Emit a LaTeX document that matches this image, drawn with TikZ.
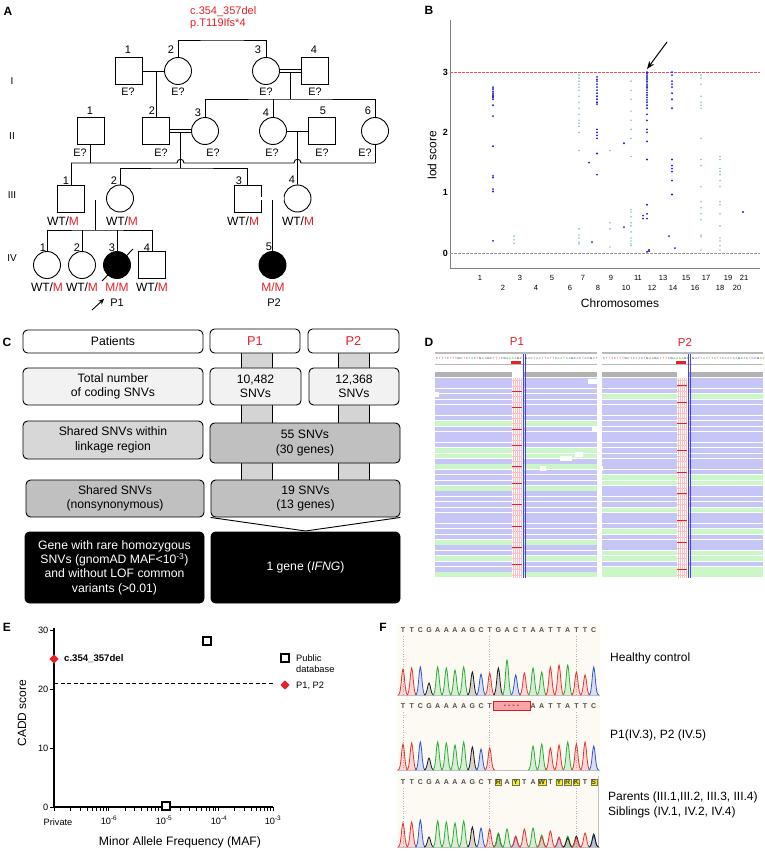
\documentclass[tikz,border=0pt]{standalone}
\usepackage{fontspec}
\setmainfont{Liberation Sans}
\usetikzlibrary{calc,arrows.meta,shapes.geometric}
\definecolor{myred}{RGB}{232,32,40}
\definecolor{dblue}{RGB}{30,30,200}
\definecolor{lteal}{RGB}{130,195,205}
\definecolor{boxA}{RGB}{242,242,242}
\definecolor{boxB}{RGB}{215,215,215}
\definecolor{boxC}{RGB}{192,192,192}
\definecolor{barC}{RGB}{212,212,212}
\definecolor{readB}{RGB}{198,198,246}
\definecolor{readG}{RGB}{202,246,200}
\definecolor{colA}{RGB}{40,175,55}
\definecolor{colC}{RGB}{45,85,215}
\definecolor{colG}{RGB}{25,25,25}
\definecolor{colT}{RGB}{232,50,50}
\definecolor{chbg}{RGB}{252,250,243}
\newcommand{\chpeak}[4]{%
  \fill[#4,fill opacity=0.16] plot[domain=-5:5,samples=11,smooth] ({#1+\x},{#2-#3*exp(-(\x)*(\x)/4.5)}) -- cycle;
  \draw[#4,line width=0.8pt] plot[domain=-5:5,samples=11,smooth] ({#1+\x},{#2-#3*exp(-(\x)*(\x)/4.5)});}
\begin{document}
\begin{tikzpicture}[x=1pt,y=-1pt,
  ind/.style={draw,line width=0.9pt,minimum size=27pt,inner sep=0pt,fill=white},
  sq/.style={ind,rectangle},
  ci/.style={ind,circle},
  aff/.style={fill=black},
  num/.style={font=\fontsize{11}{12}\selectfont,inner sep=0pt},
  eq/.style={font=\fontsize{10.8}{12}\selectfont,inner sep=0pt},
  gt/.style={font=\fontsize{12}{13}\selectfont,inner sep=0pt},
  gen/.style={font=\fontsize{10}{11}\selectfont,inner sep=0pt},
  pl/.style={line width=0.9pt},
  dbl/.style={double,double distance=2.2pt,line width=0.8pt},
  panel/.style={font=\fontsize{12}{14}\selectfont\bfseries,inner sep=0pt},
  cbox/.style={draw,rounded corners=4.5pt,line width=0.9pt,align=center,font=\fontsize{12.2}{14.4}\selectfont,inner sep=0pt},
  tick/.style={font=\fontsize{7.5}{9}\selectfont,inner sep=0pt},
  etick/.style={font=\fontsize{9.2}{10}\selectfont,inner sep=0pt},
  seqf/.style={font=\fontsize{7}{7}\selectfont\bfseries,text=black!70,inner sep=0pt},
  hetbox/.style={seqf,fill=yellow,draw=black!55,line width=0.4pt,inner sep=0.7pt,text=black!75},
  lab/.style={font=\fontsize{12}{15}\selectfont,inner sep=0pt,anchor=west,align=left},
  pubsq/.style={draw,line width=2.2pt,minimum size=7.5pt,inner sep=0pt,fill=white},
  reddia/.style={diamond,fill=myred,minimum size=9.5pt,inner sep=0pt},
]
\useasboundingbox (0,0) rectangle (765,859);
\fill[white] (0,0) rectangle (765,859);

%================ Panel A =================
\node[panel] (pA) at (8,11) {A};
\node[font=\fontsize{11}{12}\selectfont,text=myred,anchor=west,inner sep=0pt] (mut1) at (190,12) {c.354\_357del};
\node[font=\fontsize{11}{12}\selectfont,text=myred,anchor=west,inner sep=0pt] (mut2) at (190,24) {p.T119Ifs*4};

\node[gen] (gI) at (12,81) {I};
\node[gen] (gII) at (12,136) {II};
\node[gen] (gIII) at (12,195) {III};
\node[gen] (gIV) at (12,258) {IV};

\node[sq] (I1) at (128.5,71) {};
\node[ci] (I2) at (178,71) {};
\node[ci] (I3) at (266,71) {};
\node[sq] (I4) at (315,71) {};
\node[sq] (II1) at (90.5,131) {};
\node[sq] (II2) at (156,131) {};
\node[ci] (II3) at (205,131) {};
\node[ci] (II4) at (273,131) {};
\node[sq] (II5) at (322,131) {};
\node[ci] (II6) at (375,131) {};
\node[sq] (III1) at (71,198.5) {};
\node[ci] (III2) at (120,198.5) {};
\node[sq] (III3) at (247.5,198.5) {};
\node[ci] (III4) at (297.5,198.5) {};
\node[ci] (IV1) at (47,265) {};
\node[ci] (IV2) at (82,265) {};
\node[ci,aff] (IV3) at (117,265) {};
\node[sq] (IV4) at (152,265) {};
\node[ci,aff] (IV5) at (272.5,265) {};

\coordinate (top) at (222,40);
\coordinate (m34) at ($(I3.east)!0.5!(I4.west)$);
\coordinate (s2) at ($(m34)+(0,28)$);
\coordinate (m23) at ($(II2.east)!0.5!(II3.west)$);
\coordinate (s3) at ($(m23)+(0,37)$);
\coordinate (m45) at ($(II4.east)!0.5!(II5.west)$);
\coordinate (h1) at (71,163);
\coordinate (h2) at (375,163);
\coordinate (m3a) at ($(III1.east)!0.5!(III2.west)$);
\coordinate (s4) at ($(m3a)+(0,31.5)$);
\coordinate (m3b) at ($(III3.east)!0.5!(III4.west)$);

\draw[pl] (I2.north) |- (top) -| (I3.north);
\draw[pl] (I1.east) -- (I2.west);
\draw[pl] (II2.north) -- (II2.north |- I1.east);
\draw[pl] (m34) -- (s2);
\draw[pl] (II3.north) |- (s2) -| (II6.north);
\draw[pl] (II4.north) -- (II4.north |- s2);
\draw[dbl] (I3.east) -- (I4.west);

\draw[pl] (II1.south) -- (II1.south |- h1);
\draw[pl] (II6.south) -- (h2);
\draw[pl] (h1) -- (III1.north);
\draw[pl] (h1) -- ($(m23 |- h1)+(-3.5,0)$) .. controls +(0,-5) and +(0,-5) .. ($(m23 |- h1)+(3.5,0)$)
  -- ($(m45 |- h1)+(-3.5,0)$) .. controls +(0,-5) and +(0,-5) .. ($(m45 |- h1)+(3.5,0)$) -- (h2);
\draw[pl] (m23) -- (s3);
\draw[pl] (III2.north) |- (s3) -| (III3.north);
\draw[pl] (m45) -- (III4.north);
\draw[dbl] (II2.east) -- (II3.west);
\draw[pl] (II4.east) -- (II5.west);
\draw[pl] (m3a) -- (s4);
\draw[pl] (IV1.north) |- (s4) -| (IV4.north);
\draw[pl] (IV2.north) -- (IV2.north |- s4);
\draw[pl] (IV3.north) -- (IV3.north |- s4);
\draw[dbl] (III1.east) -- (III2.west);
\draw[pl] (m3b) -- (IV5.north);
\draw[dbl] (III3.east) -- (III4.west);
\draw[pl] (102,281) -- (133,249);

% numbers
\node[num] (nI1) at (128,50) {1};
\node[num] (nI2) at (171,50) {2};
\node[num] (nI3) at (258,50) {3};
\node[num] (nI4) at (314,50) {4};
\node[num] (nII1) at (90,111) {1};
\node[num] (nII2) at (152,111) {2};
\node[num] (nII3) at (198,113) {3};
\node[num] (nII4) at (266,113) {4};
\node[num] (nII5) at (323,111) {5};
\node[num] (nII6) at (368,111) {6};
\node[num] (nIII1) at (66,181) {1};
\node[num] (nIII2) at (114,181) {2};
\node[num] (nIII3) at (239,181) {3};
\node[num] (nIII4) at (292,180) {4};
\node[num] (nIV1) at (43,248) {1};
\node[num] (nIV2) at (77,248) {2};
\node[num] (nIV3) at (112,248) {3};
\node[num] (nIV4) at (147,248) {4};
\node[num] (nIV5) at (269,247) {5};
% E?
\node[eq] (eI1) at (128,92) {E?};
\node[eq] (eI2) at (178,92) {E?};
\node[eq] (eI3) at (266,92) {E?};
\node[eq] (eI4) at (315,92) {E?};
\node[eq] (eII1) at (80,153) {E?};
\node[eq] (eII2) at (161,153) {E?};
\node[eq] (eII3) at (213,153) {E?};
\node[eq] (eII4) at (272,153) {E?};
\node[eq] (eII5) at (322,153) {E?};
\node[eq] (eII6) at (365,153) {E?};
% genotypes
\node[gt] (gIII1) at (63,221) {WT/\textcolor{myred}{M}};
\node[gt] (gIII2) at (122,221) {WT/\textcolor{myred}{M}};
\node[gt] (gIII3) at (243,221) {WT/\textcolor{myred}{M}};
\node[gt] (gIII4) at (298,221) {WT/\textcolor{myred}{M}};
\node[gt] (gIV1) at (47,287) {WT/\textcolor{myred}{M}};
\node[gt] (gIV2) at (82,287) {WT/\textcolor{myred}{M}};
\node[gt,text=myred] (gIV3) at (117,287) {M/M};
\node[gt] (gIV4) at (152,287) {WT/\textcolor{myred}{M}};
\node[gt,text=myred] (gIV5) at (273,287) {M/M};
\node[num] (pP1) at (117,303) {P1};
\node[num] (pP2) at (274,303) {P2};
\coordinate (arrP1) at (92,310);
\coordinate (arrP1b) at (104,299);
\draw[line width=0.9pt,-{Stealth[length=5.5pt,width=5pt]}] (arrP1) -- (arrP1b);

%================ Panel B =================
\node[panel] (pB) at (429,10) {B};
\draw[gray,line width=0.7pt] (450,20) -- (450,268) -- (760,268);
\draw[myred!80,dashed,line width=0.5pt,dash pattern=on 2.5pt off 1.5pt] (450,72) -- (760,72);
\draw[gray!80,dashed,line width=0.6pt,dash pattern=on 2.5pt off 1.5pt] (450,253) -- (760,253);
\foreach \v in {0,1,2,3} {\node[font=\fontsize{9}{10}\selectfont\bfseries,anchor=east,inner sep=0pt] (by\v) at (448,{253-60.3*\v}) {\v};}
\node[font=\fontsize{12}{13}\selectfont,rotate=90,inner sep=0pt] (blod) at (432,155) {lod score};
\foreach \c/\xx in {1/480,3/520,5/552,7/583,9/611,11/638,13/663,15/686,17/706,19/728,21/744} {\node[tick] (bc\c) at (\xx,278) {\c};}
\foreach \c/\xx in {2/503,4/536,6/570,8/598,10/626,12/652,14/673,16/695,18/720,20/737} {\node[tick] (bc\c) at (\xx,288) {\c};}
\node[font=\fontsize{12}{13}\selectfont,inner sep=0pt] (bchr) at (620,303) {Chromosomes};
% dots
\foreach \xx/\vals in {
 493/{2.75,2.72,2.68,2.65,2.62,2.6,2.58,2.55,2.45,2.27,1.77,1.28,1.25,1.06,1.02,0.2},
 589/{1.5},592/{0.18},
 597/{2.92,2.88,2.85,2.8,2.75,2.7,2.65,2.6,2.55,2.5,2.47,2.05,2.0,1.95,1.9,1.65,1.3},
 624/{1.82,0.43},643/{0.62,0.57},
 647/{3.0,2.98,2.95,2.92,2.9,2.87,2.84,2.8,2.77,2.74,2.7,2.66,2.62,2.58,2.54,2.5,2.45,2.4,2.3,2.2,2.05,2.0,1.85,1.55,0.8,0.65,0.57,0.02},
 649/{0.03,0.05},669/{0.28},
 672/{3.0,2.95,2.85,2.8,2.75,2.65,2.55,2.4,1.55,1.45,1.4,1.35,1.2,0.97},
 675/{0.08},743/{0.68}}
 {\foreach \v in \vals {\fill[dblue] (\xx,{253-60.3*\v}) circle (1.05);}}
\foreach \xx/\vals in {
 514/{0.28,0.22,0.16},
 579/{2.95,2.9,2.85,2.8,2.75,2.7,2.6,2.5,2.4,2.3,2.2,2.15,2.1,2.0,1.7,0.4,0.3,0.25,0.18,0.15},
 610/{1.7,0.5,0.4,0.1},
 631/{2.85,2.7,2.55,2.35,2.2,2.05,1.9,1.6,0.72,0.68,0.6,0.5,0.45,0.35,0.25,0.2,0.15,0.12},
 701/{2.95,2.9,2.8,2.6,2.5,2.45,2.4,1.9,1.55,1.45,1.1,0.85,0.75,0.65,0.55,0.3,0.27,0.05},
 720/{1.6,1.55,1.4,1.35,1.3,1.2,1.1,0.85,0.8,0.65,0.45,0.25,0.2,0.12,0.05}}
 {\foreach \v in \vals {\fill[lteal] (\xx,{253-60.3*\v}) circle (0.9);}}
\coordinate (barr) at (667,42);
\coordinate (barr2) at (647,69);
\draw[line width=1pt,-{Stealth[length=8pt,width=6pt]}] (barr) -- (barr2);

%================ Panel C =================
\node[panel] (pC) at (7,342) {C};
\filldraw[fill=barC,line width=0.9pt] (241,352) rectangle (272,481);
\filldraw[fill=barC,line width=0.9pt] (338,352) rectangle (369,481);
\node[cbox,fill=white,minimum width=180pt,minimum height=23pt] (cpat) at (113,341.5) {Patients};
\node[cbox,fill=white,minimum width=90pt,minimum height=24pt,text=myred,font=\fontsize{12.8}{14}\selectfont] (cp1) at (255,341) {P1};
\node[cbox,fill=white,minimum width=91pt,minimum height=24pt,text=myred,font=\fontsize{12.8}{14}\selectfont] (cp2) at (353.5,341) {P2};
\node[cbox,fill=boxA,minimum width=180pt,minimum height=37pt] (ctot) at (113,386.5) {Total number\\of coding SNVs};
\node[cbox,fill=boxA,minimum width=91pt,minimum height=37pt] (ct1) at (255.5,386.5) {10,482\\SNVs};
\node[cbox,fill=boxA,minimum width=90pt,minimum height=37pt] (ct2) at (354,386.5) {12,368\\SNVs};
\node[cbox,fill=boxB,minimum width=180pt,minimum height=38pt] (csh) at (113,440) {Shared SNVs within\\linkage region};
\node[cbox,fill=boxC,minimum width=190pt,minimum height=40pt] (c55) at (305,443) {55 SNVs\\(30 genes)};
\node[cbox,fill=boxC,minimum width=178pt,minimum height=37pt] (cns) at (115,498.5) {Shared SNVs\\(nonsynonymous)};
\node[cbox,fill=boxC,minimum width=189pt,minimum height=37pt] (c19) at (305.5,498.5) {19 SNVs\\(13 genes)};
\coordinate (cfun) at (305.5,531);
\draw[line width=0.9pt] (c19.south west) -- (cfun) -- (c19.south east);
\node[cbox,fill=black,text=white,minimum width=179pt,minimum height=71pt] (cgl) at (114.5,567.5) {Gene with rare homozygous\\SNVs (gnomAD MAF<10\textsuperscript{-3})\\and without LOF common\\variants (>0.01)};
\node[cbox,fill=black,text=white,minimum width=189pt,minimum height=71pt] (cg1) at (305.5,567.5) {1 gene (\textit{IFNG})};

%================ Panel D =================
\node[panel] (pD) at (429,342) {D};
\node[font=\fontsize{11.5}{13}\selectfont,text=myred,inner sep=0pt] (dP1) at (517,342) {P1};
\node[font=\fontsize{11.5}{13}\selectfont,text=myred,inner sep=0pt] (dP2) at (685,342) {P2};
\foreach \xa/\xb/\da/\db/\nm in {435/597/512/523/a,602/763/677/688/b} {
  \fill[gray!55] (\xa,352) rectangle (\xb,354);
  \fill[gray!55] (\xa,363.5) rectangle (\xb,365);
  \fill[myred] ({\da-1},361) rectangle ({\db-2},363.5);
  \fill[gray!60] (\xa,371.5) rectangle (\da,376.5);
  \fill[gray!60] (\db,371.5) rectangle (\xb,376.5);
  \foreach \r in {0,...,36} {
    \fill[readB] (\xa,{378+\r*5.4}) rectangle (\da,{382.6+\r*5.4});
    \fill[readB] (\db,{378+\r*5.4}) rectangle (\xb,{382.6+\r*5.4});
    \draw[red!25,line width=0.3pt] (\da,{380.3+\r*5.4}) -- ({\db-1},{380.3+\r*5.4});
  }
  \foreach \cc in {1,3,5,7,9} {\draw[red!25,line width=0.3pt] ({\da+\cc},378) -- ({\da+\cc},578);}
}
\foreach \r in {8,13,14,16,20,30,33,36} {
  \fill[readG] (435,{378+\r*5.4}) rectangle (512,{382.6+\r*5.4});
  \fill[readG] (523,{378+\r*5.4}) rectangle (597,{382.6+\r*5.4});}
\foreach \r in {3,18,19,24,28,32,33,35,36} {
  \fill[readG] (602,{378+\r*5.4}) rectangle (677,{382.6+\r*5.4});
  \fill[readG] (688,{378+\r*5.4}) rectangle (763,{382.6+\r*5.4});}
\foreach \r in {2,5,9,12,16,19,23,27,31,34} {\draw[myred,line width=0.6pt] (512,{380.3+\r*5.4}) -- (522,{380.3+\r*5.4});}
\foreach \r in {1,4,8,13,17,21,26,30,35} {\draw[myred,line width=0.6pt] (677,{380.3+\r*5.4}) -- (687,{380.3+\r*5.4});}
\foreach \xx/\yy/\ww in {435/392/4,588/379/9,592/427/5,575/452/8,560/456/12,540/466/6,600/466/3} {\fill[white] (\xx,\yy) rectangle ({\xx+\ww},{\yy+4.6});}
\draw[blue!75,line width=0.5pt] (523.5,354) -- (523.5,578);
\draw[blue!75,line width=0.5pt] (525.5,354) -- (525.5,578);
\draw[blue!75,line width=0.5pt] (688.5,354) -- (688.5,578);
\draw[blue!75,line width=0.5pt] (690.5,354) -- (690.5,578);
\foreach \b [count=\i] in {C,T,T,T,C,T,T,T,G,C,T,C,T,A,C,T,G,A,A,G,C,T,T,T,C,G,A,A,A,A,G,C,T,G,A,C,T,A,A,T,T,A,T,T,C,A,A,T,A,A,G,C,A,C,T,C,C,G,A,T}
  {\node[font=\fontsize{3}{3}\selectfont,text=col\b,inner sep=0pt] (qa\i) at ({434.5+\i*2.7},358) {\b};
   \node[font=\fontsize{3}{3}\selectfont,text=col\b,inner sep=0pt] (qb\i) at ({601.5+\i*2.7},358) {\b};}

%================ Panel E =================
\node[panel] (pE) at (7,627) {E};
\draw[line width=1.2pt] (54,628) -- (54,807) -- (273,807);
\foreach \v/\yy in {30/630,20/689,10/748,0/807} {
  \draw[line width=1pt] (50,\yy) -- (54,\yy);
  \node[etick,anchor=east] (ey\v) at (48.5,\yy) {\v};}
\foreach \k in {0,...,4} {\draw[line width=1pt] ({54+\k*54.75},807) -- ({54+\k*54.75},811);}
\foreach \k in {0,...,3} {\foreach \m in {2,...,9} {\draw[line width=0.8pt] ({54+(\k+log10(\m))*54.75},807) -- ({54+(\k+log10(\m))*54.75},810.5);}}
\node[etick] (exp) at (58,822) {Private};
\node[etick] (ex6) at (109,820) {10\textsuperscript{-6}};
\node[etick] (ex5) at (164,820) {10\textsuperscript{-5}};
\node[etick] (ex4) at (219,820) {10\textsuperscript{-4}};
\node[etick] (ex3) at (273,820) {10\textsuperscript{-3}};
\node[font=\fontsize{12.2}{14}\selectfont,inner sep=0pt] (exl) at (180,842) {Minor Allele Frequency (MAF)};
\node[font=\fontsize{12}{13}\selectfont,rotate=90,inner sep=0pt] (eyl) at (22,713) {CADD score};
\draw[line width=1pt,dash pattern=on 4pt off 2.5pt] (54,683) -- (273,683);
\node[reddia] (ed1) at (54,659) {};
\node[font=\fontsize{9.6}{10}\selectfont\bfseries,anchor=west,inner sep=0pt] (edl) at (64,659) {c.354\_357del};
\node[pubsq] (es1) at (207,641) {};
\node[pubsq] (es2) at (166,806) {};
\node[pubsq] (esl) at (285,658) {};
\node[font=\fontsize{9.3}{10}\selectfont,anchor=west,inner sep=0pt] (el1) at (296,658) {Public};
\node[font=\fontsize{9.3}{10}\selectfont,anchor=west,inner sep=0pt] (el2) at (296,669) {database};
\node[reddia] (edg) at (285,685) {};
\node[font=\fontsize{9.3}{10}\selectfont,anchor=west,inner sep=0pt] (el3) at (296,686) {P1, P2};

%================ Panel F =================
\node[panel] (pF) at (383,627) {F};
\fill[chbg] (397,624) rectangle (600,697);
\fill[chbg] (397,699) rectangle (600,771);
\fill[chbg] (397,776) rectangle (598,848);
\draw[gray!50,line width=0.5pt] (598,776) -- (598,848);
\foreach \yt/\yb in {636/695,712/770,788/847} {
  \foreach \xx in {403,489.7,576.4} {\draw[gray!60,dotted,line width=0.5pt] (\xx,\yt) -- (\xx,\yb);}
  \draw[gray!50,line width=0.5pt] (397,\yb) -- (600,\yb);}
% panel 1
\foreach \c/\h [count=\i] in {T/26,T/27,C/28,G/12,A/28,A/27,A/25,A/28,G/23,C/21,T/22,G/27,A/35,C/20,T/22,A/27,A/23,T/28,T/30,A/30,T/23,T/20,C/28}
 {\pgfmathsetmacro\px{403+(\i-1)*8.67}
  \chpeak{\px}{695}{\h}{col\c}
  \node[seqf] (fa\i) at (\px,630) {\c};}
% panel 2
\foreach \c/\h/\i in {T/26/1,T/27/2,C/28/3,G/12/4,A/28/5,A/27/6,A/25/7,A/28/8,G/23/9,C/21/10,T/22/11,A/24/16,A/26/17,T/22/18,T/25/19,A/28/20,T/26/21,T/28/22,C/24/23}
 {\pgfmathsetmacro\px{403+(\i-1)*8.67}
  \chpeak{\px}{770}{\h}{col\c}
  \node[seqf] (fb\i) at (\px,706) {\c};}
\node[draw=myred!90!black,fill=myred!40,minimum width=37pt,minimum height=9pt,inner sep=0pt,font=\fontsize{7}{8}\selectfont\bfseries,text=myred!70!black] (fdel) at (511.5,706) {- - - -};
% panel 3
\foreach \c/\h/\i in {T/24/1,T/25/2,C/27/3,G/10/4,A/26/5,A/25/6,A/24/7,A/26/8,G/20/9,C/19/10,T/18/11,G/13/12,A/14/12,A/18/13,C/10/14,T/11/14,T/18/15,A/19/16,A/12/17,T/10/17,T/16/18,C/9/19,T/10/19,A/11/20,G/9/20,G/11/21,T/9/21,T/14/22,C/11/23,G/13/23}
 {\pgfmathsetmacro\px{403+(\i-1)*8.67}
  \chpeak{\px}{847}{\h}{col\c}}
\foreach \c/\i in {T/1,T/2,C/3,G/4,A/5,A/6,A/7,A/8,G/9,C/10,T/11,A/13,T/15,A/16,T/18,T/22}
 {\node[seqf] (fc\i) at ({403+(\i-1)*8.67},782) {\c};}
\foreach \c/\i in {R/12,Y/14,W/17,Y/19,R/20,K/21,S/23}
 {\node[hetbox] (fh\i) at ({403+(\i-1)*8.67},782) {\c};}
\node[lab] (fl1) at (610,658) {Healthy control};
\node[lab] (fl2) at (610,735) {P1(IV.3), P2 (IV.5)};
\node[lab] (fl3) at (608,797) {Parents (III.1,III.2, III.3, III.4)};
\node[lab] (fl4) at (608,812) {Siblings (IV.1, IV.2, IV.4)};
\end{tikzpicture}
\end{document}
